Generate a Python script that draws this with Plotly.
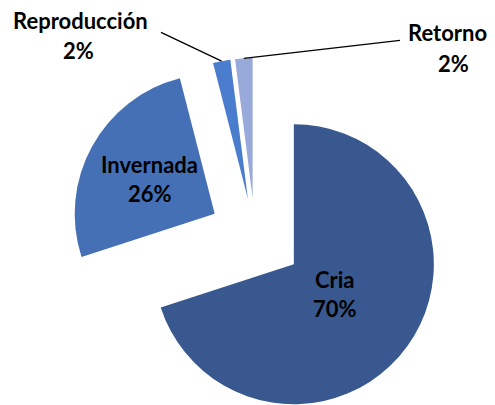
import math
import plotly.graph_objects as go

# data
labels = ["Cria", "Invernada", "Reproducción", "Retorno"]
values = [70, 26, 2, 2]
pct_text = ["70%", "26%", "2%", "2%"]

# style
colors = ["#38588F", "#4670B5", "#4A7DCE", "#98AAD9"]
explode_px = [48, 46, 38, 38]       # how far each slice is pulled out
inside_frac = [0.36, 0.53, None, None]  # label distance along slice bisector
W, H = 495, 405
CX, CY, R = 255, 236, 140           # pie centre / radius in pixels
FONT = dict(family="Lato", size=22, color="black")

total = sum(values)
mids = []
acc = 0
for v in values:
    mids.append(2 * math.pi * (acc + v / 2) / total)
    acc += v


def paper(x, y):
    return x / W, 1 - y / H


fig = go.Figure()
apexes = []
for i, d in enumerate(explode_px):
    th = mids[i]
    ax_ = CX + d * math.sin(th)
    ay_ = CY - d * math.cos(th)
    apexes.append((ax_, ay_))
    # one trace per slice, only its own slice visible -> exploded look
    fig.add_trace(
        go.Pie(
            labels=labels,
            values=values,
            sort=False,
            direction="clockwise",
            rotation=0,
            marker=dict(colors=[c if j == i else "rgba(0,0,0,0)" for j, c in enumerate(colors)]),
            textinfo="none",
            hoverinfo="label+percent",
            showlegend=False,
            domain=dict(x=[(ax_ - R) / W, (ax_ + R) / W], y=[1 - (ay_ + R) / H, 1 - (ay_ - R) / H]),
        )
    )

annotations = []
TXT = dict(xref="paper", yref="paper", showarrow=False, font=FONT, xanchor="center", yanchor="middle")
# labels inside the two big slices
for i, f in enumerate(inside_frac):
    if f is None:
        continue
    ax_, ay_ = apexes[i]
    x, y = paper(ax_ + f * R * math.sin(mids[i]), ay_ - f * R * math.cos(mids[i]))
    annotations.append(dict(x=x, y=y, text=f"<b>{labels[i]}</b>", yshift=14, **TXT))
    annotations.append(dict(x=x, y=y, text=f"<b>{pct_text[i]}</b>", yshift=-15, **TXT))

# outside labels with leader lines for the small slices
outside = {2: dict(name=(80, 20), pct=(78, 51), tail=(158, 31)),
           3: dict(name=(447, 32), pct=(453, 63), tail=(403, 40))}
for i, o in outside.items():
    ax_, ay_ = apexes[i]
    hx = ax_ + R * math.sin(mids[i])
    hy = ay_ - R * math.cos(mids[i])
    x, y = paper(hx, hy)
    annotations.append(dict(x=x, y=y, xref="paper", yref="paper", text=" ", showarrow=True,
                            arrowhead=0, arrowwidth=1.3, arrowcolor="black",
                            ax=o["tail"][0] - hx, ay=o["tail"][1] - hy))
    for key, txt in (("name", labels[i]), ("pct", pct_text[i])):
        px_, py_ = paper(*o[key])
        annotations.append(dict(x=px_, y=py_, text=f"<b>{txt}</b>", **TXT))

fig.update_layout(
    width=W,
    height=H,
    margin=dict(l=0, r=0, t=0, b=0),
    paper_bgcolor="white",
    plot_bgcolor="white",
    annotations=annotations,
)
fig.write_html("out.html", config={"displayModeBar": False},
               post_script="document.body.style.margin='0';")
